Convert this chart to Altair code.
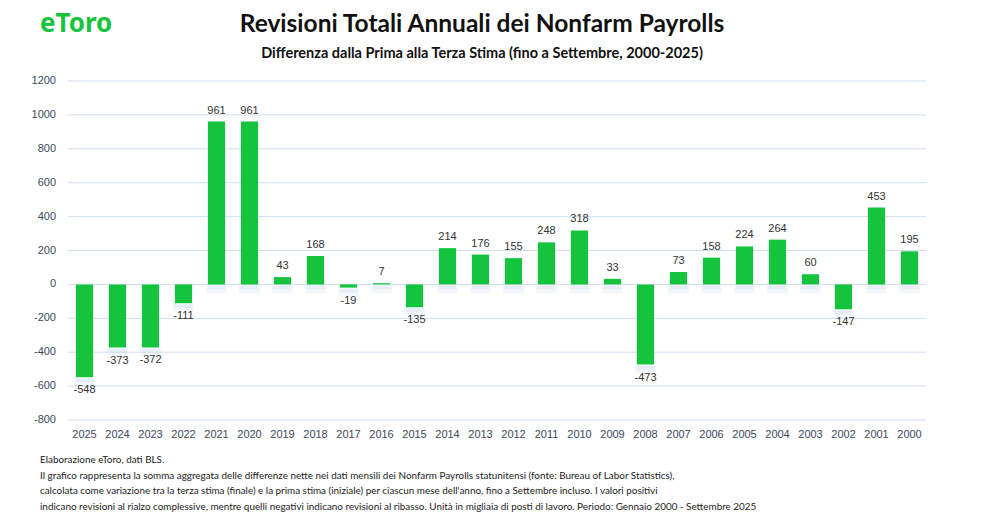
import altair as alt
import pandas as pd

years = ["2025", "2024", "2023", "2022", "2021", "2020", "2019", "2018", "2017", "2016",
         "2015", "2014", "2013", "2012", "2011", "2010", "2009", "2008", "2007", "2006",
         "2005", "2004", "2003", "2002", "2001", "2000"]
values = [-548, -373, -372, -111, 961, 961, 43, 168, -19, 7,
          -135, 214, 176, 155, 248, 318, 33, -473, 73, 158,
          224, 264, 60, -147, 453, 195]
y_ticks = [-800, -600, -400, -200, 0, 200, 400, 600, 800, 1000, 1200]

title_text = "Revisioni Totali Annuali dei Nonfarm Payrolls"
subtitle_text = "Differenza dalla Prima alla Terza Stima (fino a Settembre, 2000-2025)"
footer_lines = [
    "Elaborazione eToro,  dati BLS.",
    "Il grafico rappresenta la somma aggregata delle differenze nette nei dati mensili dei Nonfarm Payrolls statunitensi (fonte: Bureau of Labor Statistics),",
    " calcolata come variazione tra la terza stima (finale) e la prima stima (iniziale) per ciascun mese dell'anno, fino a Settembre incluso. I valori positivi",
    "indicano revisioni al rialzo complessive, mentre quelli negativi indicano revisioni al ribasso. Unità in migliaia di posti di lavoro. Periodo: Gennaio 2000 - Settembre 2025",
]

df = pd.DataFrame({"year": years, "value": values})
df["label"] = df["value"].astype(str)
df["base"] = df["value"].clip(upper=0)
ticks_df = pd.DataFrame({"v": y_ticks, "lab": [str(v) for v in y_ticks]})

W, H = 858, 339
GREEN = "#14C43C"
AXIS_COLOR = "#3B4A5E"

yscale = alt.Scale(domain=[-800, 1200], nice=False)
x_enc = alt.X("year:N", sort=years, title=None,
              scale=alt.Scale(paddingInner=0.48, paddingOuter=0.24),
              axis=alt.Axis(labelAngle=0, ticks=False, domain=False, labelPadding=8,
                            labelFont="Liberation Sans", labelFontSize=11,
                            labelColor=AXIS_COLOR, grid=False))
y_enc = alt.Y("value:Q", scale=yscale, title=None, axis=None)

# gridlines and y labels drawn from the tick list
grid = alt.Chart(ticks_df).mark_rule(color="#CFDDEF", strokeWidth=1).encode(
    y=alt.Y("v:Q", scale=yscale, axis=None), x=alt.value(0), x2=alt.value(W))
ylabels = alt.Chart(ticks_df).mark_text(
    align="right", baseline="middle", font="Liberation Sans", fontSize=11, color=AXIS_COLOR
).encode(y=alt.Y("v:Q", scale=yscale, axis=None), x=alt.value(-12), text="lab:N")

base = alt.Chart(df)

shadow1 = base.mark_tick(color="#C9D9EE", opacity=0.22, thickness=8, size=21, yOffset=5).encode(
    x=x_enc, y=alt.Y("base:Q", scale=yscale, axis=None))
shadow2 = base.mark_tick(color="#C9D9EE", opacity=0.3, thickness=4, size=18, yOffset=3).encode(
    x=x_enc, y=alt.Y("base:Q", scale=yscale, axis=None))

bars = base.mark_bar(color=GREEN).encode(x=x_enc, y=y_enc, y2=alt.datum(0))

pos_labels = base.transform_filter("datum.value >= 0").mark_text(
    baseline="bottom", dy=-6, font="Liberation Sans", fontSize=11, color="#333333"
).encode(x=x_enc, y=y_enc, text="label:N")

neg_labels = base.transform_filter("datum.value < 0").mark_text(
    baseline="top", dy=7, font="Liberation Sans", fontSize=11, color="#333333"
).encode(x=x_enc, y=y_enc, text="label:N")


def text_layer(t, x, y, **kw):
    return alt.Chart(pd.DataFrame({"t": [t]})).mark_text(**kw).encode(
        x=alt.value(x), y=alt.value(y), text="t:N")


title = text_layer(title_text, 414, -56, font="Lato", fontSize=24.5, fontWeight="bold",
                   color="#111111", align="center", baseline="middle")
subtitle = text_layer(subtitle_text, 414, -27, font="Lato", fontSize=14.5, fontWeight="bold",
                      color="#111111", align="center", baseline="middle")
logo = text_layer("eToro", -28, -57, font="Noto Sans", fontSize=26, fontWeight="bold",
                  color=GREEN, align="left", baseline="middle")

footer_y = [379, 394.5, 410, 425.5]
footers = [text_layer(line, -28, fy, font="Lato", fontSize=9.9, color="#222222",
                      align="left", baseline="middle")
           for line, fy in zip(footer_lines, footer_y)]

chart = alt.layer(grid, ylabels, shadow1, shadow2, bars, pos_labels, neg_labels,
                  title, subtitle, logo, *footers).properties(
    width=W, height=H,
    padding={"left": 60, "top": 73, "right": 40, "bottom": 92},
    autosize=alt.AutoSizeParams(type="none"),
    background="white",
).configure_view(stroke=None)

chart.save("out.html", embed_options={"renderer": "svg", "actions": False})
